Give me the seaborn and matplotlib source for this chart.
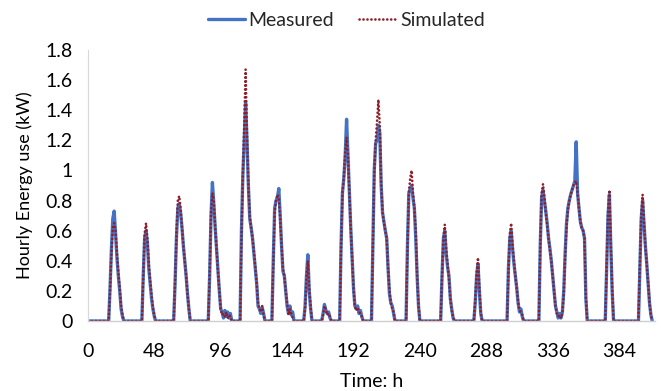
import numpy as np
import pandas as pd
import matplotlib
matplotlib.use("Agg")
import matplotlib.pyplot as plt
import seaborn as sns

# ---------------- data ----------------
n_hours = 409  # hours 0..408

# start hour of each daily profile
event_starts = [15, 39, 62, 87, 110, 133, 156, 169, 182, 205, 230, 255, 279, 303, 326, 374, 398]

measured_profiles = [
    [0.0, 0.22, 0.48, 0.68, 0.73, 0.58, 0.42, 0.30, 0.20, 0.08, 0.03, 0.0],
    [0.0, 0.30, 0.55, 0.60, 0.52, 0.35, 0.25, 0.15, 0.08, 0.03, 0.0],
    [0.0, 0.25, 0.55, 0.75, 0.78, 0.72, 0.62, 0.50, 0.40, 0.30, 0.18, 0.08, 0.0],
    [0.0, 0.30, 0.70, 0.92, 0.78, 0.62, 0.48, 0.33, 0.20, 0.08, 0.06, 0.02, 0.07, 0.03, 0.06, 0.02, 0.05, 0.0],
    [0.0, 0.60, 0.97, 1.20, 1.45, 1.20, 0.90, 0.68, 0.62, 0.55, 0.45, 0.35, 0.25, 0.10, 0.08, 0.05, 0.09, 0.05, 0.0],
    [0.0, 0.40, 0.75, 0.80, 0.82, 0.88, 0.70, 0.50, 0.33, 0.30, 0.20, 0.10, 0.05, 0.10, 0.04, 0.06, 0.0],
    [0.0, 0.10, 0.30, 0.44, 0.20, 0.08, 0.0],
    [0.0, 0.05, 0.11, 0.07, 0.05, 0.06, 0.02, 0.0],
    [0.0, 0.50, 0.85, 0.95, 1.10, 1.34, 1.10, 0.85, 0.62, 0.42, 0.22, 0.10, 0.08, 0.10, 0.05, 0.07, 0.03, 0.0],
    [0.0, 0.50, 1.00, 1.18, 1.20, 1.30, 1.25, 0.90, 0.72, 0.66, 0.60, 0.55, 0.35, 0.18, 0.12, 0.10, 0.05, 0.0],
    [0.0, 0.50, 0.85, 0.88, 0.90, 0.82, 0.75, 0.55, 0.30, 0.10, 0.0],
    [0.0, 0.30, 0.55, 0.60, 0.45, 0.36, 0.30, 0.15, 0.08, 0.02, 0.0],
    [0.0, 0.12, 0.30, 0.38, 0.20, 0.05, 0.0],
    [0.0, 0.35, 0.55, 0.60, 0.48, 0.38, 0.30, 0.22, 0.12, 0.06, 0.08, 0.03, 0.0],
    [0.0, 0.50, 0.82, 0.87, 0.80, 0.73, 0.65, 0.55, 0.48, 0.40, 0.30, 0.20, 0.10, 0.06, 0.02, 0.05, 0.02,
     0.06, 0.20, 0.45, 0.65, 0.75, 0.80, 0.84, 0.87, 0.90, 0.93, 1.19, 0.85, 0.75, 0.66, 0.62, 0.60, 0.55, 0.15, 0.0],
    [0.0, 0.35, 0.70, 0.84, 0.50, 0.20, 0.0],
    [0.0, 0.35, 0.68, 0.80, 0.65, 0.50, 0.38, 0.25, 0.12, 0.04, 0.0],
]

simulated_profiles = [
    [0.0, 0.20, 0.45, 0.62, 0.65, 0.60, 0.45, 0.32, 0.22, 0.10, 0.04, 0.0],
    [0.0, 0.28, 0.58, 0.65, 0.55, 0.38, 0.27, 0.17, 0.09, 0.04, 0.0],
    [0.0, 0.25, 0.58, 0.80, 0.83, 0.75, 0.62, 0.50, 0.40, 0.30, 0.18, 0.08, 0.0],
    [0.0, 0.30, 0.72, 0.85, 0.80, 0.63, 0.48, 0.33, 0.20, 0.08, 0.04, 0.05, 0.03, 0.06, 0.02, 0.04, 0.03, 0.0],
    [0.0, 0.55, 0.95, 1.30, 1.67, 1.25, 0.90, 0.70, 0.62, 0.55, 0.46, 0.36, 0.25, 0.12, 0.08, 0.06, 0.10, 0.04, 0.0],
    [0.0, 0.38, 0.72, 0.80, 0.84, 0.82, 0.68, 0.50, 0.35, 0.30, 0.20, 0.12, 0.04, 0.08, 0.05, 0.02, 0.0],
    [0.0, 0.08, 0.28, 0.40, 0.22, 0.10, 0.0],
    [0.0, 0.04, 0.10, 0.08, 0.04, 0.05, 0.03, 0.0],
    [0.0, 0.48, 0.85, 0.95, 1.12, 1.22, 1.10, 0.85, 0.62, 0.42, 0.22, 0.10, 0.07, 0.09, 0.06, 0.05, 0.03, 0.0],
    [0.0, 0.48, 0.98, 1.20, 1.32, 1.47, 1.30, 0.92, 0.72, 0.65, 0.60, 0.55, 0.35, 0.20, 0.12, 0.08, 0.06, 0.0],
    [0.0, 0.48, 0.85, 0.95, 1.00, 0.85, 0.75, 0.60, 0.30, 0.10, 0.0],
    [0.0, 0.30, 0.55, 0.64, 0.48, 0.38, 0.28, 0.15, 0.07, 0.03, 0.0],
    [0.0, 0.14, 0.32, 0.42, 0.22, 0.06, 0.0],
    [0.0, 0.33, 0.58, 0.65, 0.50, 0.40, 0.30, 0.22, 0.13, 0.07, 0.06, 0.04, 0.0],
    [0.0, 0.50, 0.85, 0.91, 0.82, 0.72, 0.64, 0.55, 0.47, 0.40, 0.30, 0.20, 0.10, 0.05, 0.03, 0.04, 0.02,
     0.05, 0.18, 0.42, 0.63, 0.74, 0.80, 0.84, 0.87, 0.90, 0.92, 0.93, 0.85, 0.75, 0.66, 0.62, 0.60, 0.55, 0.15, 0.0],
    [0.0, 0.37, 0.72, 0.87, 0.52, 0.22, 0.0],
    [0.0, 0.37, 0.70, 0.84, 0.66, 0.50, 0.38, 0.25, 0.12, 0.04, 0.0],
]

x_ticks = [0, 48, 96, 144, 192, 240, 288, 336, 384]
y_ticks = [0, 0.2, 0.4, 0.6, 0.8, 1.0, 1.2, 1.4, 1.6, 1.8]
y_tick_labels = ["0", "0.2", "0.4", "0.6", "0.8", "1", "1.2", "1.4", "1.6", "1.8"]
series_names = ["Measured", "Simulated"]

# ---------------- assemble hourly series ----------------
hours = np.arange(n_hours)
measured = np.zeros(n_hours)
simulated = np.zeros(n_hours)
for s, m, sm in zip(event_starts, measured_profiles, simulated_profiles):
    measured[s:s + len(m)] = m
    simulated[s:s + len(sm)] = sm

df = pd.DataFrame({"hour": hours, "Measured": measured, "Simulated": simulated})

# ---------------- plotting ----------------
sns.set_theme(style="white")
plt.rcParams["font.family"] = ["Lato", "DejaVu Sans"]

fig = plt.figure(figsize=(6.61, 3.91), dpi=100)
ax = fig.add_axes([0.133, 0.179, 0.858, 0.693])

sns.lineplot(data=df, x="hour", y="Measured", ax=ax, color="#4472C4", lw=2.4,
             label=series_names[0], legend=False)
sns.lineplot(data=df, x="hour", y="Simulated", ax=ax, color="#8E1F2A", lw=1.9,
             label=series_names[1], legend=False)
sim_line = ax.get_lines()[1]
sim_line.set_linestyle((0, (0.05, 1.45)))
sim_line.set_dash_capstyle("round")

ax.set_xlim(0, 410)
ax.set_ylim(0, 1.8)
ax.set_xticks(x_ticks)
ax.set_xticklabels([str(t) for t in x_ticks], fontsize=14)
ax.set_yticks(y_ticks)
ax.set_yticklabels(y_tick_labels, fontsize=14)
ax.set_xlabel("Time: h", fontsize=14, color="black", labelpad=9)
ax.set_ylabel("Hourly Energy use (kW)", fontsize=13, color="black", labelpad=9)
ax.tick_params(axis="both", colors="black", direction="in", length=4, width=0.8)
ax.tick_params(axis="x", pad=16, color="#d0d0d0")
ax.tick_params(axis="y", pad=11, color="#d9d9d9")

for side in ["top", "right"]:
    ax.spines[side].set_visible(False)
ax.spines["left"].set_color("#d9d9d9")
ax.spines["bottom"].set_color("#cfcfcf")
ax.spines["left"].set_linewidth(0.8)
ax.spines["bottom"].set_linewidth(1)

handles = ax.get_lines()[:2]
fig.legend(handles, series_names, loc="center", bbox_to_anchor=(0.524, 0.947), ncol=2,
           frameon=False, fontsize=14, handlelength=1.9, columnspacing=1.3, handletextpad=0.2)

fig.savefig("out.png", dpi=100)
